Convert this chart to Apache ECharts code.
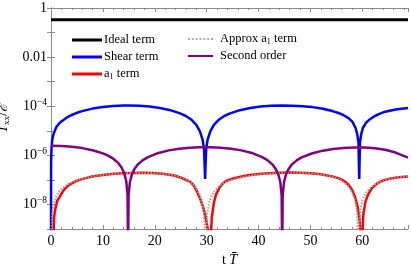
<!DOCTYPE html>
<html><head><meta charset="utf-8">
<script src="https://cdn.jsdelivr.net/npm/echarts@6/dist/echarts.min.js"></script>
<style>html,body{margin:0;padding:0;background:#fff}#c{width:411px;height:270px}</style>
</head><body><div id="c"></div>
<script>
// ---- data ----
const xRange = [0, 68.8];
const xTicks = [0, 10, 20, 30, 40, 50, 60];
const yRange = [1e-9, 1];
const yTickLabels = {'0':'1', '-2':'0.01', '-4':'10{s|−4}', '-6':'10{s|−6}', '-8':'10{s|−8}'};
const seriesNames = ['Ideal term', 'Shear term', 'a1 term', 'Approx a1 term', 'Second order'];

const idealTerm = [[0,0.333],[68.8,0.333]];

const shearTerm = [[0,1e-10],[0.02,5e-7],[0.1,2e-6],[0.25,4.5e-6],[0.5,7.5e-6],[1,1.4e-5],[1.5,1.9e-5],[2,2.4e-5],[3,3.4e-5],[4,4.4e-5],[5,5.4e-5],[6,6.3e-5],[8,8e-5],[10,9.3e-5],[12,1.02e-4],[14,1.06e-4],[15,1.07e-4],[17,1.04e-4],[19,9.7e-5],[21,8.5e-5],[23,6.9e-5],[25,5e-5],[26,4e-5],[27,2.9e-5],[28,1.75e-5],[28.7,9.5e-6],[29.2,4.5e-6],[29.5,1.8e-6],[29.7,1.1e-7],[29.9,1.8e-6],[30.2,4.5e-6],[30.7,9.5e-6],[31.4,1.75e-5],[32.4,2.9e-5],[33.4,4e-5],[34.4,5e-5],[36.4,6.9e-5],[38.4,8.5e-5],[40.4,9.7e-5],[42.4,1.04e-4],[44.4,1.07e-4],[46.4,1.05e-4],[48.4,1.0e-4],[50.4,9.2e-5],[52.4,7.9e-5],[54.4,6.2e-5],[55.4,5.3e-5],[56.4,4.3e-5],[57.4,3.2e-5],[58.1,2.3e-5],[58.7,1.3e-5],[59.0,7.5e-6],[59.25,3.5e-6],[59.4,1.1e-7],[59.55,3.5e-6],[59.8,7.5e-6],[60.1,1.3e-5],[60.7,2.1e-5],[61.4,2.9e-5],[62.4,4e-5],[63.4,5e-5],[64.4,6e-5],[66.4,7.4e-5],[68.8,8.5e-5]];

const a1Term = [[0,1e-10],[0.4,1e-10],[0.6,3e-9],[0.8,6e-9],[1.2,1.4e-8],[1.7,2.1e-8],[2.2,3.2e-8],[2.7,4.4e-8],[3.5,6.3e-8],[4.6,8.5e-8],[5.5,1.0e-7],[6.5,1.15e-7],[7.5,1.3e-7],[8.5,1.43e-7],[10,1.58e-7],[11.7,1.73e-7],[13.6,1.85e-7],[15.5,1.93e-7],[17.5,1.95e-7],[19.5,1.9e-7],[21.5,1.78e-7],[23.5,1.55e-7],[25,1.25e-7],[26,1.0e-7],[26.8,8.5e-8],[27.5,6e-8],[28.1,3.5e-8],[28.7,1.8e-8],[29.3,8e-9],[29.8,3e-9],[30.2,1e-9],[30.6,1e-10],[31,3e-9],[31.4,1.2e-8],[31.8,2.5e-8],[32.5,5e-8],[33.2,7.5e-8],[34,9.5e-8],[35,1.12e-7],[36.5,1.35e-7],[38,1.55e-7],[40,1.75e-7],[42,1.88e-7],[44,1.96e-7],[46,2.0e-7],[48,1.97e-7],[50,1.88e-7],[52,1.7e-7],[54,1.42e-7],[55.5,1.15e-7],[56.5,9e-8],[57.3,6.5e-8],[58,4e-8],[58.6,2e-8],[59.1,8e-9],[59.5,2e-9],[59.85,1e-10],[60.2,4e-9],[60.6,1.3e-8],[61.1,2.5e-8],[61.8,4.5e-8],[62.8,7e-8],[64,9.5e-8],[65.5,1.15e-7],[67,1.28e-7],[68.8,1.38e-7]];

const approxA1Term = [[0,1e-10],[0.2,4e-9],[0.5,1e-8],[1,2.2e-8],[1.5,3.3e-8],[2,4.3e-8],[3,6.2e-8],[4,8e-8],[5,9.6e-8],[6.5,1.17e-7],[8,1.38e-7],[10,1.6e-7],[12,1.76e-7],[14,1.87e-7],[16,1.93e-7],[18,1.93e-7],[20,1.87e-7],[22,1.73e-7],[24,1.48e-7],[25.5,1.2e-7],[26.5,9.5e-8],[27.3,7e-8],[28,4.5e-8],[28.6,2.6e-8],[29.1,1.2e-8],[29.5,4e-9],[29.8,1e-10],[30.1,4e-9],[30.5,1.2e-8],[31,2.4e-8],[31.6,3.8e-8],[32.5,5.8e-8],[33.5,7.8e-8],[35,1.03e-7],[36.5,1.25e-7],[38,1.45e-7],[40,1.66e-7],[42,1.8e-7],[44,1.9e-7],[46,1.95e-7],[48,1.93e-7],[50,1.85e-7],[52,1.68e-7],[54,1.38e-7],[55.5,1.08e-7],[56.5,8e-8],[57.3,5.5e-8],[58,3.2e-8],[58.6,1.5e-8],[59,5e-9],[59.25,1e-10],[59.6,6e-9],[60.1,1.7e-8],[60.7,3e-8],[61.5,4.7e-8],[62.5,6.7e-8],[64,9.3e-8],[65.5,1.15e-7],[67,1.3e-7],[68.8,1.42e-7]];

const secondOrder = [[0,2.45e-6],[2,2.4e-6],[4,2.23e-6],[6,1.97e-6],[8,1.62e-6],[10,1.2e-6],[11,9.7e-7],[12,7.3e-7],[13,4.8e-7],[13.6,3.2e-7],[14.1,1.9e-7],[14.5,9e-8],[14.75,2.6e-8],[14.85,1e-10],[14.95,2.3e-8],[15.2,8e-8],[15.6,1.7e-7],[16.1,2.8e-7],[16.7,4.2e-7],[17.7,6.4e-7],[18.7,8.5e-7],[20.7,1.25e-6],[22.7,1.59e-6],[24.7,1.86e-6],[26.7,2.04e-6],[28.7,2.14e-6],[29.7,2.15e-6],[30.7,2.14e-6],[32.7,2.04e-6],[34.7,1.86e-6],[36.7,1.59e-6],[38.7,1.25e-6],[40.7,8.5e-7],[41.7,6.4e-7],[42.7,4.2e-7],[43.3,2.8e-7],[43.8,1.7e-7],[44.2,8e-8],[44.45,2.3e-8],[44.55,1e-10],[44.65,2.3e-8],[44.9,8e-8],[45.3,1.7e-7],[45.8,2.8e-7],[46.4,4.2e-7],[47.4,6.4e-7],[48.4,8.5e-7],[50.4,1.22e-6],[52.4,1.55e-6],[54.4,1.81e-6],[56.4,2.0e-6],[58.4,2.09e-6],[59.4,2.1e-6],[60.4,2.09e-6],[62.4,1.95e-6],[64.4,1.7e-6],[66.4,1.3e-6],[68.8,8e-7]];

// ---- chart ----
const FONT = 'Liberation Serif';
const AX = '#8a8a8a';
const chart = echarts.init(document.getElementById('c'), null, {renderer: 'canvas'});
const legendRich = {n: {fontFamily: FONT, fontSize: 12.5, color: '#000'}, s: {fontFamily: FONT, fontSize: 8, color: '#000', padding: [6, 0, 0, 0]}};
const dash = 'path://M0,0h2v2h-2zM4,0h2v2h-2zM8,0h2v2h-2zM12,0h2v2h-2zM16,0h2v2h-2zM20,0h2v2h-2zM24,0h2v2h-2z';

const baseX = {type: 'value', min: xRange[0], max: xRange[1], interval: 10,
  axisLine: {show: true, lineStyle: {color: AX, width: 1}},
  axisTick: {show: true, inside: true, length: 4, lineStyle: {color: AX}},
  minorTick: {show: true, splitNumber: 5, length: 2, lineStyle: {color: AX}},
  splitLine: {show: false}};
const baseY = {type: 'log', logBase: 10, min: yRange[0], max: yRange[1], interval: 1,
  axisLine: {show: true, lineStyle: {color: AX, width: 1}},
  axisTick: {show: true, inside: true, length: 4, lineStyle: {color: AX}},
  splitLine: {show: false}};

const option = {
  animation: false,
  backgroundColor: '#fff',
  grid: {left: 51, right: 3, top: 8, bottom: 41, containLabel: false, outerBoundsMode: 'none'},
  xAxis: [
    Object.assign({}, baseX, {position: 'bottom',
      name: '{n|t }{i|T̄}', nameLocation: 'middle', nameGap: 22,
      nameTextStyle: {rich: {n: {fontFamily: FONT, fontSize: 14, color: '#000'}, i: {fontFamily: FONT, fontStyle: 'italic', fontSize: 14, color: '#000'}}},
      axisLabel: {show: true, fontFamily: FONT, fontSize: 14, color: '#000', margin: 5, showMaxLabel: false, formatter: v => xTicks.includes(v) ? String(v) : ''}}),
    Object.assign({}, baseX, {position: 'top', axisLabel: {show: false}})
  ],
  yAxis: [
    Object.assign({}, baseY, {position: 'left',
      name: '{i|T}{sub|xx}{n|/}{e|ℰ̄}', nameLocation: 'middle', nameGap: 29, nameRotate: 90,
      nameTextStyle: {rich: {i: {fontFamily: FONT, fontStyle: 'italic', fontSize: 14, color: '#000'}, sub: {fontFamily: FONT, fontSize: 9, color: '#000', padding: [8, 0, 0, 0]}, n: {fontFamily: FONT, fontSize: 14, color: '#000'}, e: {fontFamily: FONT, fontStyle: 'italic', fontSize: 14, color: '#000'}}},
      axisLabel: {show: true, margin: 4, fontFamily: FONT, fontSize: 14, color: '#000',
        formatter: v => { const e = Math.round(Math.log10(v)); return yTickLabels[String(e)] || ''; },
        rich: {s: {fontFamily: FONT, fontSize: 9.5, color: '#000', padding: [0, 0, 8, 0]}}}}),
    Object.assign({}, baseY, {position: 'right', axisLabel: {show: false}})
  ],
  legend: [
    {orient: 'vertical', left: 67, top: 28, itemWidth: 30, itemHeight: 3, itemGap: 3,
     data: [{name: seriesNames[0], icon: 'rect'}, {name: seriesNames[1], icon: 'rect'}, {name: seriesNames[2], icon: 'rect'}],
     formatter: n => '{n|' + n.replace('a1', 'a}{s|1}{n|') + '}',
     textStyle: {fontFamily: FONT, fontSize: 12.5, color: '#000', lineHeight: 14, padding: [0, 0, 0, -3], rich: legendRich}},
    {orient: 'vertical', left: 183, top: 27, itemWidth: 25, itemHeight: 2, itemGap: 3,
     data: [{name: seriesNames[3], icon: dash, itemStyle: {color: '#aaa'}}, {name: seriesNames[4], icon: 'rect'}],
     formatter: n => '{n|' + n.replace('a1', 'a}{s|1}{n|') + '}',
     textStyle: {fontFamily: FONT, fontSize: 12.5, color: '#000', lineHeight: 14, padding: [0, 0, 0, 2], rich: legendRich}}
  ],
  series: [
    {name: seriesNames[0], type: 'line', data: idealTerm, showSymbol: false, clip: true, color: '#000', lineStyle: {width: 3, color: '#000'}},
    {name: seriesNames[1], type: 'line', data: shearTerm, showSymbol: false, clip: true, color: '#0000ff', lineStyle: {width: 2.5, color: '#0000ff'}},
    {name: seriesNames[2], type: 'line', data: a1Term, showSymbol: false, clip: true, color: '#ff0000', lineStyle: {width: 2.5, color: '#ff0000'}},
    {name: seriesNames[3], type: 'line', data: approxA1Term, showSymbol: false, clip: true, color: '#aaa', lineStyle: {width: 2, color: '#a0a0a0', type: [1.5, 1.5]}},
    {name: seriesNames[4], type: 'line', data: secondOrder, showSymbol: false, clip: true, color: '#800080', lineStyle: {width: 2.5, color: '#800080'}}
  ]
};
chart.setOption(option);
</script></body></html>
